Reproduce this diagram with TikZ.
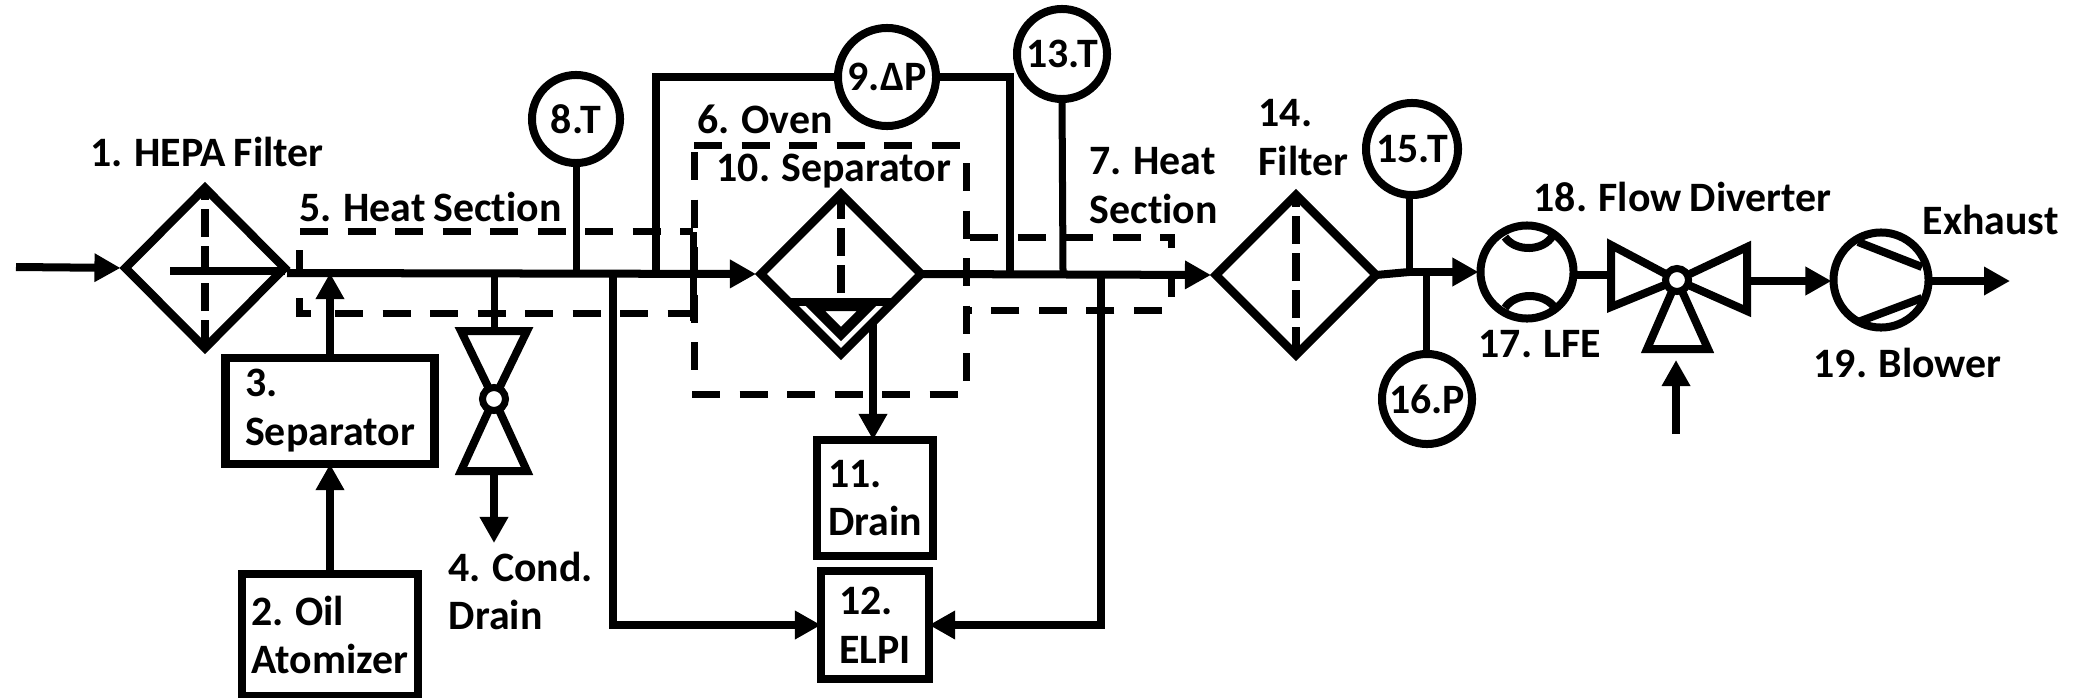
\documentclass[tikz,border=0pt]{standalone}
\usepackage{fontspec}
\setmainfont{Carlito}[WordSpace=0.85, Ligatures={NoCommon}]
\usetikzlibrary{arrows.meta,shapes.geometric,positioning}
\tikzset{
	pipe/.style={line width=0.08cm},
	stem/.style={line width=0.07cm},
	flow/.style={pipe, -{Triangle[length=0.26cm,width=0.27cm]}},
	dashline/.style={line width=0.07cm, dash pattern=on 0.28cm off 0.195cm},
	filterdash/.style={line width=0.08cm, dash pattern=on 0.28cm off 0.09cm},
	filterbox/.style={diamond, draw, line width=0.085cm, aspect=1, inner sep=0pt, outer sep=0pt},
	unitbox/.style={rectangle, draw, line width=0.085cm, inner sep=0pt, outer sep=0pt, align=left},
	sensor/.style={circle, draw, fill=white, line width=0.08cm, inner sep=0pt, outer sep=0pt},
	hubcirc/.style={circle, draw, fill=white, line width=0.07cm, minimum size=0.23cm, inner sep=0pt, outer sep=0pt},
	valvepart/.style={line width=0.08cm, line join=miter},
	txt/.style={anchor=west, inner sep=0pt, align=left}
}
\begin{document}
\begin{tikzpicture}[x=0.01cm, y=-0.01cm, font=\fontsize{11.9}{13.9}\selectfont\bfseries]
	\useasboundingbox (0,0) rectangle (2077,697);
	% Filters
	\node[filterbox, minimum width=1.59cm, minimum height=1.6cm] (filterA) at (205,268) {};
	\node[filterbox, minimum width=1.6cm, minimum height=1.6cm] (filterB) at (841,274) {};
	\node[filterbox, minimum width=1.6cm, minimum height=1.6cm] (filterC) at (1296,275) {};
	\foreach \f in {filterA,filterC} {
		\draw[filterdash] (\f.south) -- (\f.north);
	}
	\draw[filterdash] (841,293) -- (filterB.north);
	% Lower part of separator 10
	\coordinate (chordL) at (790,302);
	\coordinate (chordR) at (892,302);
	\draw[pipe] (chordL) -- (chordR);
	\draw[line width=0.1cm, line join=miter] (813,306) -- (841,334) -- (869,306) -- cycle;

	% Section 5
	\draw[dashline] (300,231) -- (693,231);
	\draw[dashline] (335,313) -- (693,313);
	\draw[stem] (693,232) -- (693,321);
	\draw[stem] (299,250) -- (299,276);
	\draw[stem] (299,298) -- (299,313) -- (311,313);
	% Section 6
	\draw[dashline] (694,145) -- (960,145);
	\draw[dashline] (966,163) -- (966,385);
	\draw[dashline] (692,394) -- (960,394);
	\draw[dashline] (694,152) -- (694,375);
	% Section 7
	\draw[dashline] (970,237) -- (1171,237) -- (1171,248);
	\draw[dashline] (1171,277) -- (1171,297);
	\draw[dashline] (1162,310) -- (966,310);

	% Units
	\node[unitbox, minimum width=2.09cm, minimum height=1.06cm] (sepA) at (330,411) {3.\\Separator};
	\node[unitbox, minimum width=1.76cm, minimum height=1.22cm] (oilAtom) at (330,635) {2. Oil\\Atomizer};
	\node[unitbox, minimum width=1.16cm, minimum height=1.16cm] (drainBox) at (875,498) {11.\\Drain};
	\node[unitbox, minimum width=1.08cm, minimum height=1.08cm] (elpi) at (875,625) {12.\\ELPI};

	% Sensors
	\foreach \n/\x/\y/\r/\t in {tempA/576/119/0.88cm/8.T, dpress/887/77/0.98cm/9.ΔP, tempB/1062/54/0.9cm/13.T, tempC/1412/149/0.92cm/15.T, pressA/1427/399/0.9cm/16.P} {
		\node[sensor, minimum size=\r] (\n) at (\x,\y) {\t};
	}

	% Main line
	\coordinate (inlet) at (16,267);
	\coordinate (filterAin) at (170,271);
	\coordinate (mainA) at (287,273);
	\coordinate (mixPt) at (330,273);
	\coordinate (valveTap) at (494,273);
	\coordinate (tempTap) at (576,273);
	\coordinate (elpiTapA) at (613,273);
	\coordinate (dpTapA) at (656,273);
	\coordinate (dpTapB) at (1010,273);
	\coordinate (tempTapB) at (1063,273);
	\coordinate (elpiTapB) at (1101,273);
	\coordinate (tapC) at (1409,272);
	\coordinate (tapD) at (1426,272);
	\draw[flow, shorten >=0.05cm] (inlet) -- (filterA.west);
	\draw[pipe] (filterAin) -- (filterA.east |- filterAin);
	\draw[flow, shorten >=0.05cm] (mainA) -- (filterB.west);
	\draw[flow, shorten >=0.05cm] (filterB.east) -- (filterC.west);
	\draw[pipe] (filterC.east) -- (tapC);

	% Branches
	\draw[flow] (oilAtom.north) -- (sepA.south);
	\draw[flow] (sepA.north) -- (mixPt);
	\draw[stem] (tempA.south) -- (tempTap);
	\draw[pipe] (dpTapA) -- (656,77) -- (dpress.west);
	\draw[pipe] (dpress.east) -- (1010,77) -- (dpTapB);
	\draw[stem] (tempB.south) -- (tempTapB);
	\draw[flow] (873,322) -- (drainBox.north -| 873,322);
	\draw[flow] (elpiTapA) -- (613,625) -- (elpi.west);
	\draw[flow] (elpiTapB) -- (1101,625) -- (elpi.east);
	\draw[stem] (tapC |- tempC.south) -- (tapC);
	\draw[stem] (tapD |- pressA.north) -- (tapD);

	% Valve 4
	\coordinate (valveAtop) at (494,331);
	\coordinate (valveAbot) at (494,471);
	\coordinate (condOut) at (494,543);
	\draw[stem] (valveTap) -- (valveAtop);
	\draw[valvepart] (461,331) -- (527,331) -- (494,399) -- cycle;
	\draw[valvepart] (461,471) -- (527,471) -- (494,399) -- cycle;
	\node[hubcirc] (valveA) at (494,399) {};
	\draw[flow] (valveAbot) -- (condOut);

	% LFE
	\node[sensor, minimum size=0.93cm] (lfe) at (1527,272) {};
	\draw[pipe] (1505,237) .. controls (1515,252) and (1544,252) .. (1553,235);
	\draw[pipe] (1505,308) .. controls (1515,292) and (1544,292) .. (1555,308);
	\draw[flow, shorten >=0.02cm] (tapC) -- (lfe.west |- tapC);

	% Flow diverter
	\coordinate (divA) at (1611,275);
	\coordinate (divB) at (1747,281);
	\coordinate (divIn) at (1676,434);
	\coordinate (divBase) at (1676,360);
	\draw[pipe] (lfe.east |- divA) -- (divA);
	\draw[valvepart] (1611,245) -- (1611,307) -- (1677,280) -- cycle;
	\draw[valvepart] (1747,247) -- (1747,311) -- (1677,280) -- cycle;
	\draw[valvepart] (1647,349) -- (1708,349) -- (1677,280) -- cycle;
	\node[hubcirc] (diverter) at (1677,280) {};
	\draw[flow] (divIn) -- (divBase);

	% Blower
	\node[sensor, minimum size=0.95cm] (blower) at (1881,280) {};
	\coordinate (exhaustEnd) at (2010,281);
	\draw[pipe] (1858,242) -- (1922,267);
	\draw[pipe] (1858,322) -- (1922,298);
	\draw[flow, shorten >=0.02cm] (divB) -- (blower.west |- divB);
	\draw[flow] (blower.east |- exhaustEnd) -- (exhaustEnd);

	% Labels
	\node[txt] (lblA) at (90,152) {1. HEPA Filter};
	\node[txt] (lblB) at (299,207) {5. Heat Section};
	\node[txt] (lblC) at (697,119) {6. Oven};
	\node[txt] (lblD) at (716,171) {10. Separator};
	\node[txt] (lblE) at (1089,186) {7. Heat\\Section};
	\node[txt] (lblF) at (1258,138) {14.\\Filter};
	\node[txt] (lblG) at (448,591) {4. Cond.\\Drain};
	\node[txt] (lblH) at (1533,197) {18. Flow Diverter};
	\node[txt] (lblI) at (1922,220) {Exhaust};
	\node[txt] (lblJ) at (1478,344) {17. LFE};
	\node[txt] (lblK) at (1813,363) {19. Blower};
\end{tikzpicture}
\end{document}
